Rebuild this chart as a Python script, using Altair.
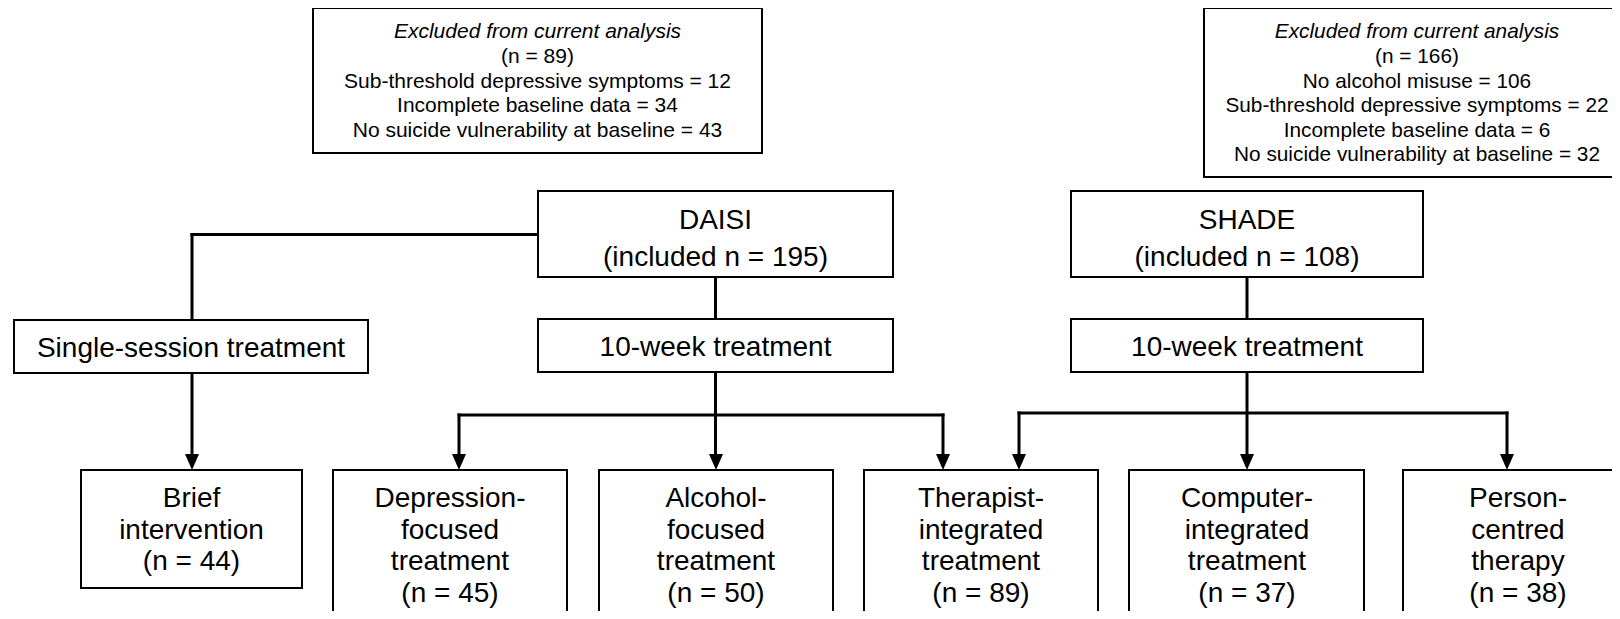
import altair as alt
import pandas as pd

# ---------------- content ----------------
excl_heading = "Excluded from current analysis"
excl_daisi_lines = [
    "(n = 89)",
    "Sub-threshold depressive symptoms = 12",
    "Incomplete baseline data = 34",
    "No suicide vulnerability at baseline = 43",
]
excl_shade_lines = [
    "(n = 166)",
    "No alcohol misuse = 106",
    "Sub-threshold depressive symptoms = 22",
    "Incomplete baseline data = 6",
    "No suicide vulnerability at baseline = 32",
]
study_names = ["DAISI", "SHADE"]
study_included_n = [195, 108]
phase_labels = ["Single-session treatment", "10-week treatment", "10-week treatment"]
arm_labels = [
    "Brief\nintervention",
    "Depression-\nfocused\ntreatment",
    "Alcohol-\nfocused\ntreatment",
    "Therapist-\nintegrated\ntreatment",
    "Computer-\nintegrated\ntreatment",
    "Person-\ncentred\ntherapy",
]
arm_n = [44, 45, 50, 89, 37, 38]

# ---------------- layout (page pixel geometry) ----------------
CHART_W, CHART_H = 1604, 603
X_DOMAIN = [8, 8 + CHART_W]
Y_DOMAIN = [8, 8 + CHART_H]

excl_boxes = [(313, 762, 8, 153), (1204, 1639, 8, 177)]
excl_text_x = [537.5, 1417]
excl_font = [21, 20.8]
study_boxes = [(538, 893, 191, 277), (1071, 1423, 191, 277)]
phase_boxes = [(14, 368, 320, 373), (538, 893, 319, 372), (1071, 1423, 319, 372)]
arm_boxes = [(81, 302, 470, 588), (333, 567, 470, 660), (599, 833, 470, 660),
             (864, 1098, 470, 660), (1129, 1364, 470, 660), (1403, 1637, 470, 660)]
arm_text_x = [191.5, 450, 716, 981, 1247, 1518]

elbow_y = 234.5
branch_y = [415, 413]
arrow_entry_x = [192, 459, 716, 943, 1019, 1247, 1507]
arrow_len = 16
arrow_tip_y = arm_boxes[0][2]

FONT = "Liberation Sans"

xs = alt.Scale(domain=X_DOMAIN, nice=False, zero=False)
ys = alt.Scale(domain=Y_DOMAIN, nice=False, zero=False, reverse=True)


def cx(b):
    return (b[0] + b[1]) / 2


# ---------------- boxes ----------------
all_boxes = excl_boxes + study_boxes + phase_boxes + arm_boxes
boxes_df = pd.DataFrame([{"x1": b[0], "x2": b[1], "y1": b[2], "y2": b[3]} for b in all_boxes])
boxes = alt.Chart(boxes_df).mark_rect(
    fill="white", stroke="black", strokeWidth=2, clip=True
).encode(
    x=alt.X("x1:Q", scale=xs, axis=None),
    x2="x2:Q",
    y=alt.Y("y1:Q", scale=ys, axis=None),
    y2="y2:Q",
)

# ---------------- connectors ----------------
sc = phase_boxes[0]
tip_top = arrow_tip_y - arrow_len / 2
segs = []
# DAISI -> single-session (elbow)
segs.append((arrow_entry_x[0], study_boxes[0][0], elbow_y, elbow_y))
segs.append((arrow_entry_x[0], arrow_entry_x[0], elbow_y, sc[2]))
# single-session -> brief intervention
segs.append((arrow_entry_x[0], arrow_entry_x[0], sc[3], tip_top))
# studies -> 10-week
for sb, pb in zip(study_boxes, phase_boxes[1:]):
    segs.append((cx(sb), cx(sb), sb[3], pb[2]))
# DAISI 10-week -> arms
d_week = phase_boxes[1]
segs.append((cx(d_week), cx(d_week), d_week[3], tip_top))
segs.append((arrow_entry_x[1], arrow_entry_x[3], branch_y[0], branch_y[0]))
for ex in (arrow_entry_x[1], arrow_entry_x[3]):
    segs.append((ex, ex, branch_y[0], tip_top))
# SHADE 10-week -> arms
s_week = phase_boxes[2]
segs.append((cx(s_week), cx(s_week), s_week[3], tip_top))
segs.append((arrow_entry_x[4], arrow_entry_x[6], branch_y[1], branch_y[1]))
for ex in (arrow_entry_x[4], arrow_entry_x[6]):
    segs.append((ex, ex, branch_y[1], tip_top))

segs_df = pd.DataFrame([{"x1": s[0], "x2": s[1], "y1": s[2], "y2": s[3]} for s in segs])
connectors = alt.Chart(segs_df).mark_rule(
    color="black", strokeWidth=3, strokeCap="square"
).encode(
    x=alt.X("x1:Q", scale=xs, axis=None),
    x2="x2:Q",
    y=alt.Y("y1:Q", scale=ys, axis=None),
    y2="y2:Q",
)

arrows_df = pd.DataFrame({"x": arrow_entry_x, "y": [tip_top] * len(arrow_entry_x)})
arrows = alt.Chart(arrows_df).mark_point(
    shape="M-0.875,-1L0.875,-1L0,1Z", filled=True, size=arrow_len ** 2,
    color="black", opacity=1, strokeWidth=0
).encode(
    x=alt.X("x:Q", scale=xs, axis=None),
    y=alt.Y("y:Q", scale=ys, axis=None),
)

# ---------------- texts ----------------
def text_layer(df, size, line_height, style="normal"):
    return alt.Chart(df).mark_text(
        font=FONT, fontSize=size, fontStyle=style, lineHeight=line_height,
        lineBreak="\n", align="center", baseline="alphabetic", color="black"
    ).encode(
        x=alt.X("x:Q", scale=xs, axis=None),
        y=alt.Y("y:Q", scale=ys, axis=None),
        text="t:N",
    )

excl_layers = []
for i, lines in enumerate([excl_daisi_lines, excl_shade_lines]):
    head_df = pd.DataFrame({"x": [excl_text_x[i]], "y": [38.3], "t": [excl_heading]})
    body_df = pd.DataFrame({"x": [excl_text_x[i]], "y": [63], "t": ["\n".join(lines)]})
    excl_layers.append(text_layer(head_df, excl_font[i], 24.6, "italic"))
    excl_layers.append(text_layer(body_df, excl_font[i], 24.6))

study_df = pd.DataFrame({"x": [cx(b) for b in study_boxes], "y": [228.5, 228.5],
                         "t": [f"{s}\n(included n = {n})" for s, n in zip(study_names, study_included_n)]})
phase_df = pd.DataFrame({"x": [cx(b) for b in phase_boxes],
                         "y": [(b[2] + b[3]) / 2 + 10 for b in phase_boxes],
                         "t": phase_labels})
arm_df = pd.DataFrame({"x": arm_text_x, "y": [507] * len(arm_labels),
                       "t": [f"{a}\n(n = {n})" for a, n in zip(arm_labels, arm_n)]})

texts = excl_layers + [
    text_layer(study_df, 28, 37),
    text_layer(phase_df, 28, 32),
    text_layer(arm_df, 28, 31.7),
]

chart = alt.layer(connectors, boxes, arrows, *texts).properties(
    width=CHART_W, height=CHART_H, padding=0,
    autosize=alt.AutoSizeParams(type="none"),
).configure(background="white").configure_view(stroke=None, strokeWidth=0)

chart.save("out.html", embed_options={"renderer": "svg", "actions": False})
